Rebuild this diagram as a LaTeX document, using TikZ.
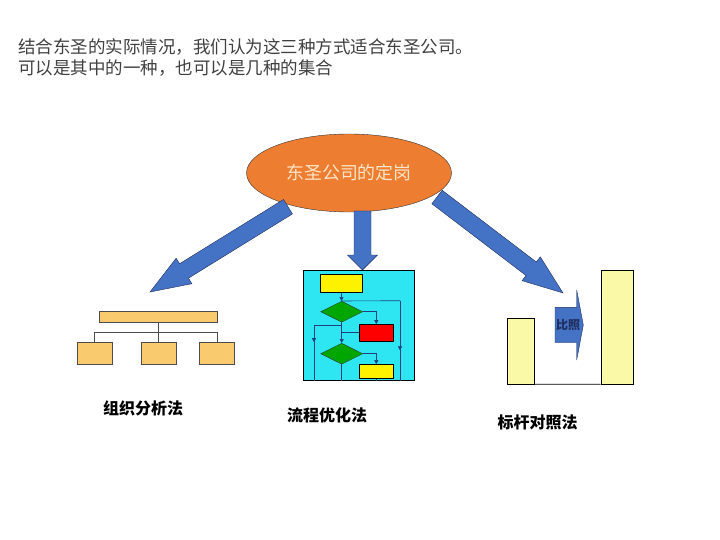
\documentclass[tikz,border=0pt]{standalone}
\usepackage{fontspec}
\setmainfont{Noto Sans CJK SC}
\usetikzlibrary{calc,positioning,shapes.geometric,arrows.meta,decorations.markings}

\definecolor{titlegray}{HTML}{404040}
\definecolor{ovalorange}{HTML}{ED7D31}
\definecolor{ovaltext}{HTML}{FBE5C8}
\definecolor{arrowblue}{HTML}{4472C4}
\definecolor{arrowedge}{HTML}{1F2F5F}
\definecolor{orgfill}{HTML}{FACB6E}
\definecolor{flowcyan}{HTML}{2EE6F2}
\definecolor{flowline}{HTML}{1F3F7F}
\definecolor{benchfill}{HTML}{FAF9A8}

\tikzset{
  fat arrow/.style={draw=arrowedge, fill=arrowblue, thin, line join=miter,
    to path={let \p1=($(\tikztotarget)!#1!(\tikztostart)$) in
      ($(\tikztostart)!8.5pt!90:(\tikztotarget)$) -- ($(\p1)!8.5pt!90:(\tikztotarget)$)
      -- ($(\p1)!15pt!90:(\tikztotarget)$) -- (\tikztotarget)
      -- ($(\p1)!15pt!-90:(\tikztotarget)$) -- ($(\p1)!8.5pt!-90:(\tikztotarget)$)
      -- ($(\tikztostart)!8.5pt!-90:(\tikztotarget)$) -- cycle}},
  fat arrow/.default=40pt,
  orgbox/.style={draw=black!70, fill=orgfill, inner sep=0, minimum width=35pt, minimum height=21.7pt},
  flowbox/.style={draw=black, inner sep=0},
  flowdiamond/.style={diamond, draw=black!80, fill=green!65!black, inner sep=0,
    minimum width=42pt, minimum height=21pt},
  flowlink/.style={draw=flowline, line width=0.6pt},
  flowtip/.style={flowlink, -{Triangle[width=4pt,length=4pt]}},
  midtip/.style={flowlink, postaction={decorate}, decoration={markings,
    mark=at position #1 with {\arrow{Triangle[width=4pt,length=4pt]}}}},
  benchbar/.style={draw=black, fill=benchfill, inner sep=0},
  method/.style={font=\fontsize{16}{16}\selectfont\bfseries, inner sep=0}
}

\begin{document}
\begin{tikzpicture}[x=1pt, y=-1pt]
  \useasboundingbox (0,0) rectangle (720,540);

  \node[anchor=base west, inner sep=0, text=titlegray, font=\fontsize{17.5}{21}\selectfont]
    (title1) at (18,54) {结合东圣的实际情况，我们认为这三种方式适合东圣公司。};
  \node[anchor=base west, inner sep=0, text=titlegray, font=\fontsize{17.5}{21}\selectfont]
    (title2) at (18,75) {可以是其中的一种，也可以是几种的集合};

  \node[ellipse, draw=black!80, fill=ovalorange, inner sep=0, minimum width=205pt,
    minimum height=78pt, text=ovaltext, font=\fontsize{17.9}{18}\selectfont]
    (oval) at (349,173) {东圣公司的定岗};

  % organisation chart
  \node[orgbox, minimum width=118pt, minimum height=11.6pt] (bar) at (158.3,316.5) {};
  \foreach \x [count=\i] in {94.5,158.3,216.7}
    \node[orgbox] (ob\i) at (\x,353) {};
  \coordinate (bus) at (158.3,332.3);
  \draw[black!70] (bar) -- (ob2);
  \draw[black!70] (ob1.north) |- (bus) -| (ob3.north);

  % flow chart
  \node[flowbox, fill=flowcyan, minimum width=110.7pt, minimum height=110.7pt] (flowbg) at (358.7,325.3) {};
  \node[flowbox, fill=yellow, minimum width=42.7pt, minimum height=18.3pt] (fy1) at (341.3,283.2) {};
  \node[flowdiamond] (fd1) at (341.7,311.7) {};
  \node[flowbox, fill=red, minimum width=34pt, minimum height=16.7pt] (fr) at (376.3,332.7) {};
  \node[flowdiamond] (fd2) at (341.7,353.7) {};
  \node[flowbox, fill=yellow, minimum width=34pt, minimum height=14pt] (fy2) at (376.3,371.3) {};
  \coordinate (rrail) at (400,300.7);
  \coordinate (lrail) at (314,325.7);
  \draw[flowtip] (fy1) -- (fd1);
  \draw[flowlink] (fd1.north) -- (rrail);
  \draw[midtip=0.62] (rrail) -- (rrail |- flowbg.south);
  \draw[flowtip] (fd1.east) -| (fr.north);
  \draw[flowtip] (fd1.south) -- (fd2.north);
  \draw[flowlink] (fr.west) -- (fr.west -| fd1.south);
  \draw[flowlink] (lrail -| fd1.south) -- (lrail);
  \draw[midtip=0.3] (lrail) -- (lrail |- flowbg.south);
  \draw[flowtip] (fd2.east) -| (fy2.north);
  \draw[flowlink] (fd2.south) -- (fd2.south |- flowbg.south);
  \draw[flowlink] (fy2.south) -- (fy2.south |- flowbg.south);

  % benchmarking
  \node[benchbar, minimum width=27pt, minimum height=65.7pt] (bl) at (520.8,351.2) {};
  \node[benchbar, minimum width=32.6pt, minimum height=114pt] (br) at (617,327) {};
  \draw[line width=0.8pt] (bl.south east) -- (br.south west);
  \filldraw[draw=arrowedge, fill=arrowblue, thin] (555,307.3) -- (576.7,307.3) -- (576.7,290)
    -- (583.3,325) -- (576.7,360) -- (576.7,342.7) -- (555,342.7) -- cycle;
  \node[text=arrowedge, inner sep=0, font=\fontsize{12}{12}\selectfont\bfseries] (cmp) at (568,325) {比照};

  % arrows from the oval
  \coordinate (ltail) at (288,206.7);
  \coordinate (ltip) at (150,292);
  \coordinate (mtail) at (362.5,211);
  \coordinate (mtip) at (362.5,270);
  \coordinate (rtail) at (437,197);
  \coordinate (rtip) at (563,293);
  \draw[fat arrow] (ltail) to (ltip);
  \draw[fat arrow=15pt] (mtail) to (mtip);
  \draw[fat arrow] (rtail) to (rtip);

  \node[method] (m1) at (143,408) {组织分析法};
  \node[method] (m2) at (327,415) {流程优化法};
  \node[method] (m3) at (537.5,422) {标杆对照法};
\end{tikzpicture}
\end{document}
